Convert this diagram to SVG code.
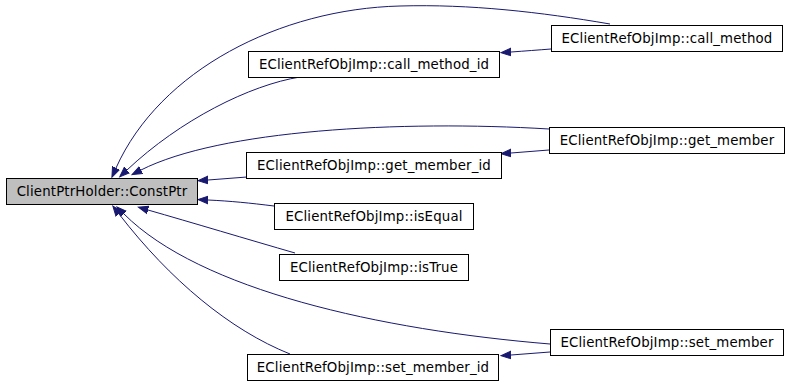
<svg xmlns="http://www.w3.org/2000/svg" width="789" height="386" viewBox="0 0 789 386">
<style>
.n rect{fill:#ffffff;stroke:#000000;stroke-width:1}
.n.hl rect{fill:#bfbfbf}
.n text{font-family:"DejaVu Sans",sans-serif;font-size:13.33px;letter-spacing:0.15px;fill:#000000;text-anchor:middle}
.e path{fill:none;stroke:#191970;stroke-width:1;marker-end:url(#arr)}
</style>
<defs>
<marker id="arr" markerUnits="userSpaceOnUse" markerWidth="12" markerHeight="10" viewBox="0 -5 12 10" refX="0" refY="0" orient="auto">
<path d="M0,-3.8 L10,0 L0,3.8 z" fill="#191970" stroke="#191970" stroke-width="1"/>
</marker>
</defs>
<rect width="789" height="386" fill="#ffffff"/>
<g id="edges" class="e">
<path d="M610,24 C540,12 470,4 400,6 C280,9 160,70 116,168"/>
<path d="M551,49 C538,50 525,51 511,52"/>
<path d="M300,77 C250,85 180,120 127,170"/>
<path d="M549,129 C400,120 220,130 141,170"/>
<path d="M549,150 C536,151 524,152 511,153"/>
<path d="M247,177 C234,178 221,179 208,180"/>
<path d="M274,206 C250,203 230,201 208,200"/>
<path d="M295,253 C250,240 190,222 148,210"/>
<path d="M550,344 C380,330 200,290 124,214"/>
<path d="M550,352 C537,353 524,354 511,355"/>
<path d="M290,354 C230,330 170,280 119,214"/>
</g>
<g id="constptr" class="n hl"><rect x="6.5" y="178.5" width="191" height="26"/><text x="102" y="196">ClientPtrHolder::ConstPtr</text></g>
<g id="call_method" class="n"><rect x="551.5" y="25.5" width="231" height="26"/><text x="667" y="43">EClientRefObjImp::call_method</text></g>
<g id="call_method_id" class="n"><rect x="248.5" y="51.5" width="251" height="26"/><text x="374" y="69">EClientRefObjImp::call_method_id</text></g>
<g id="get_member" class="n"><rect x="549.5" y="127.5" width="235" height="26"/><text x="667" y="145">EClientRefObjImp::get_member</text></g>
<g id="get_member_id" class="n"><rect x="246.5" y="152.5" width="255" height="26"/><text x="374" y="170">EClientRefObjImp::get_member_id</text></g>
<g id="isEqual" class="n"><rect x="274.5" y="203.5" width="199" height="26"/><text x="374" y="221">EClientRefObjImp::isEqual</text></g>
<g id="isTrue" class="n"><rect x="279.5" y="254.5" width="189" height="26"/><text x="374" y="272">EClientRefObjImp::isTrue</text></g>
<g id="set_member" class="n"><rect x="550.5" y="329.5" width="233" height="26"/><text x="667" y="347">EClientRefObjImp::set_member</text></g>
<g id="set_member_id" class="n"><rect x="247.5" y="354.5" width="251" height="26"/><text x="373" y="372">EClientRefObjImp::set_member_id</text></g>
</svg>
